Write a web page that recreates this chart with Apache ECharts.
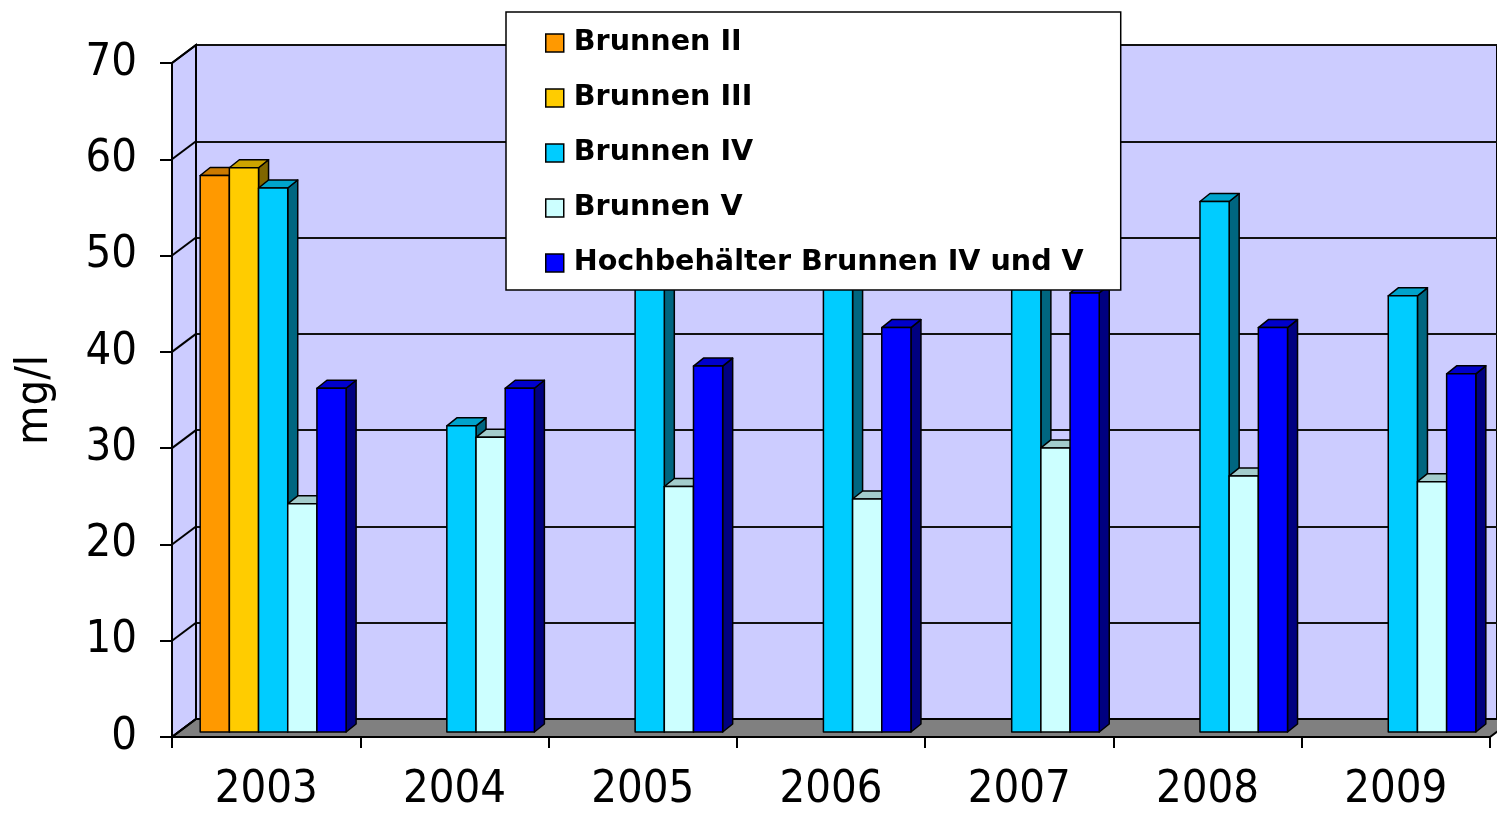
<!DOCTYPE html>
<html><head><meta charset="utf-8">
<script src="https://cdn.jsdelivr.net/npm/echarts@6/dist/echarts.min.js"></script>
<style>html,body{margin:0;padding:0;background:#fff}#c{width:1497px;height:813px}</style>
</head><body><div id="c"></div>
<script>
const categories = ['2003','2004','2005','2006','2007','2008','2009'];
const brunnenII   = [57.8, null, null, null, null, null, null];
const brunnenIII  = [58.6, null, null, null, null, null, null];
const brunnenIV   = [56.5, 31.8, 50.5, 53.0, 52.0, 55.1, 45.3];
const brunnenV    = [23.7, 30.6, 25.5, 24.2, 29.5, 26.6, 26.0];
const hochbehaelter = [35.7, 35.7, 38.0, 42.0, 45.6, 42.0, 37.2];
const seriesNames = ['Brunnen II','Brunnen III','Brunnen IV','Brunnen V','Hochbehälter Brunnen IV und V'];
const yTicks = [0,10,20,30,40,50,60,70];

const palette = [
  {front:'#FF9900', top:'#CC7A00', side:'#7F4C00'},
  {front:'#FFCC00', top:'#CCA300', side:'#806600'},
  {front:'#00CCFF', top:'#00A3CC', side:'#006680'},
  {front:'#CCFFFF', top:'#A3CCCC', side:'#668080'},
  {front:'#0000FF', top:'#0000CC', side:'#000080'}
];
const DX = 24, DY = -18;       // depth of the chart box
const OX = 7, OY = -5;         // bar front plane offset
const BX = 10, BY = -8;        // bar depth
const BAR_FRAC = 0.155;

function toData(arr){
  const out = [];
  arr.forEach((v,i)=>{ if(v!==null) out.push([i, v]); });
  return out;
}

function barRender(slot, col){
  return function(params, api){
    const cat = api.value(0), v = api.value(1);
    const base = api.coord([cat, 0]);
    const top = api.coord([cat, v]);
    const bw = api.size([1,0])[0];
    const w = bw * BAR_FRAC;
    const xl = base[0] + (slot - 2.5) * w + OX;
    const xr = xl + w;
    const yb = base[1] + OY;
    const yt = top[1] + OY;
    const st = {stroke:'#000', lineWidth:1.5, lineJoin:'round'};
    return {type:'group', children:[
      {type:'polygon', shape:{points:[[xr,yt],[xr+BX,yt+BY],[xr+BX,yb+BY],[xr,yb]]}, style:Object.assign({fill:col.side}, st)},
      {type:'polygon', shape:{points:[[xl,yt],[xr,yt],[xr+BX,yt+BY],[xl+BX,yt+BY]]}, style:Object.assign({fill:col.top}, st)},
      {type:'rect', shape:{x:xl, y:yt, width:w, height:yb-yt}, style:Object.assign({fill:col.front}, st)}
    ]};
  };
}

function structureRender(params, api){
  const cs = params.coordSys;
  const x = cs.x, y = cs.y, w = cs.width, h = cs.height;
  const st = {stroke:'#000', lineWidth:2};
  const children = [
    {type:'polygon', shape:{points:[[x,y+h],[x+DX,y+h+DY],[x+DX,y+DY],[x,y]]}, style:Object.assign({fill:'#CCCCFF'}, st)},
    {type:'polygon', shape:{points:[[x,y+h],[x+w,y+h],[x+w+DX,y+h+DY],[x+DX,y+h+DY]]}, style:Object.assign({fill:'#808080'}, st)}
  ];
  yTicks.forEach(t=>{
    const p = api.coord([0, t]);
    children.push({type:'line', shape:{x1:x, y1:p[1], x2:x+DX, y2:p[1]+DY}, style:st});
  });
  return {type:'group', children};
}

const seriesData = [brunnenII, brunnenIII, brunnenIV, brunnenV, hochbehaelter];
const series = [{
  type:'custom', xAxisIndex:1, yAxisIndex:1, z:1, silent:true,
  data:[[0,0]], renderItem:structureRender
}];
seriesData.forEach((arr, i)=>{
  series.push({
    type:'custom', name:seriesNames[i], xAxisIndex:1, yAxisIndex:1, z:3,
    itemStyle:{color:palette[i].front, borderColor:'#000', borderWidth:1.5},
    encode:{x:0, y:1},
    data:toData(arr), renderItem:barRender(i, palette[i])
  });
});

const AXIS_FONT = 'DejaVu Sans Condensed';
const chart = echarts.init(document.getElementById('c'), null, {renderer:'canvas'});
chart.setOption({
  animation:false,
  backgroundColor:'#fff',
  textStyle:{fontFamily:'DejaVu Sans'},
  grid:[
    {left:196, top:45, width:1318, height:674, show:true, backgroundColor:'#CCCCFF', borderColor:'#000', borderWidth:2},
    {left:172, top:63, right:7, bottom:76}
  ],
  xAxis:[
    {gridIndex:0, type:'category', data:categories, show:false},
    {gridIndex:1, type:'category', data:categories, z:5,
     axisLine:{lineStyle:{color:'#000', width:2}},
     axisTick:{show:true, length:11, lineStyle:{color:'#000', width:2}},
     axisLabel:{fontSize:45, color:'#000', margin:31, fontFamily:AXIS_FONT}}
  ],
  yAxis:[
    {gridIndex:0, type:'value', min:0, max:70, interval:10,
     axisLine:{show:false}, axisTick:{show:false}, axisLabel:{show:false},
     splitLine:{lineStyle:{color:'#111', width:2}}},
    {gridIndex:1, type:'value', min:0, max:70, interval:10, z:5,
     name:'mg/l', nameLocation:'middle', nameGap:114, nameRotate:90,
     nameTextStyle:{fontSize:45, color:'#000', fontFamily:AXIS_FONT},
     axisLine:{show:true, lineStyle:{color:'#000', width:2}},
     axisTick:{show:true, length:12, lineStyle:{color:'#000', width:2}},
     axisLabel:{fontSize:45, color:'#000', margin:35, fontFamily:AXIS_FONT, padding:[7,0,0,0]},
     splitLine:{show:false}}
  ],
  legend:{
    orient:'vertical', left:506, top:12, z:20,
    data:seriesNames, icon:'rect', itemWidth:18, itemHeight:18, itemGap:25,
    padding:[16, 37, 12, 39],
    backgroundColor:'#fff', borderColor:'#000', borderWidth:1.5,
    itemStyle:{borderColor:'#000', borderWidth:1.5},
    textStyle:{fontSize:28.6, fontWeight:'bold', color:'#000', fontFamily:'DejaVu Sans', lineHeight:30, padding:[0,0,0,5]},
    selectedMode:false
  },
  series
});
</script></body></html>
